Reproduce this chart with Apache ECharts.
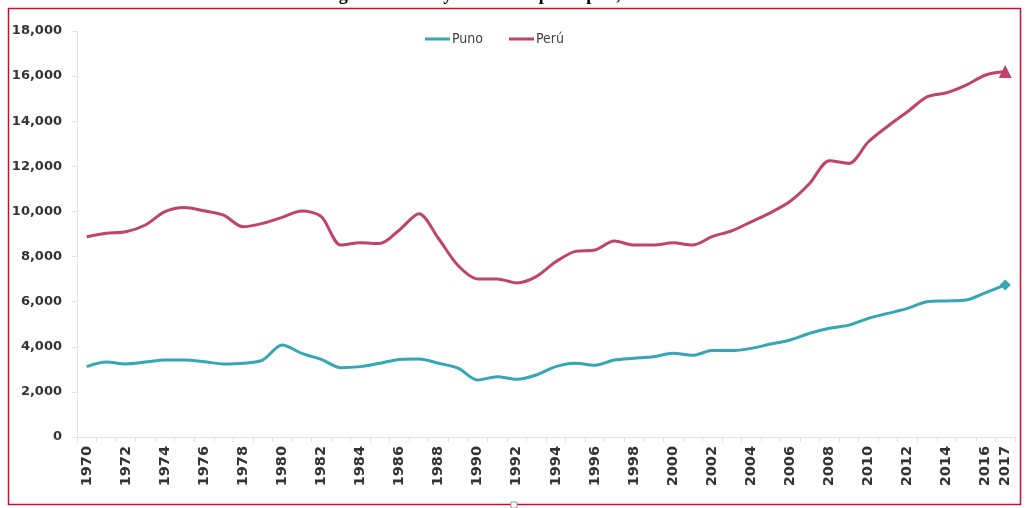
<!DOCTYPE html>
<html>
<head>
<meta charset="utf-8">
<script src="https://cdn.jsdelivr.net/npm/echarts@6/dist/echarts.min.js"></script>
<style>html,body{margin:0;padding:0;background:#fff;}#c{width:1026px;height:508px;}</style>
</head>
<body>
<div id="c"></div>
<script>
const years = [];
for (let y = 1970; y <= 2017; y++) years.push(String(y));
const puno = [3120,3320,3240,3320,3410,3410,3340,3240,3270,3410,4080,3710,3440,3070,3120,3270,3440,3460,3270,3050,
  2530,2670,2560,2750,3120,3270,3180,3410,3490,3560,3710,3620,3830,3830,3930,4120,4300,4600,4820,4960,
  5260,5480,5700,6000,6030,6070,6400,6740];
const peru = [8880,9030,9100,9400,9990,10180,10030,9840,9320,9470,9740,10020,9770,8510,8610,8580,9180,9900,8800,7600,
  7010,7010,6830,7110,7770,8230,8290,8690,8510,8510,8610,8510,8880,9140,9540,9950,10450,11250,12250,12130,
  13090,13790,14420,15080,15260,15600,16050,16200];
const yTicks = [0, 2000, 4000, 6000, 8000, 10000, 12000, 14000, 16000, 18000];

const chart = echarts.init(document.getElementById('c'));
function withEndMarker(arr, sym, size) {
  return arr.map((v, i) => i === arr.length - 1 ? {value: v, symbol: sym, symbolSize: size} : v);
}
chart.setOption({
  animation: false,
  backgroundColor: '#fff',
  title: {
    text: 'Figura 3: Puno y Perú: PBI per cápita, 1970-2017',
    left: 'center', top: -19,
    textStyle: {fontFamily: 'Liberation Serif', fontWeight: 'bold', fontSize: 18, color: '#000'}
  },
  legend: {
    data: ['Puno', 'Perú'],
    top: 27, left: 420,
    icon: 'rect', itemWidth: 25, itemHeight: 3, itemGap: 26,
    textStyle: {fontFamily: 'DejaVu Sans Condensed', fontSize: 14, color: '#444', padding: [0,0,0,-3]}
  },
  grid: {left: 77, right: 11, top: 31, bottom: 71, containLabel: false},
  xAxis: {
    type: 'category', data: years, boundaryGap: true,
    axisLine: {lineStyle: {color: '#e4e4e4', width: 1}},
    axisTick: {show: true, alignWithLabel: false, interval: 0, lineStyle: {color: '#e4e4e4'}},
    axisLabel: {
      rotate: 90, margin: 9,
      interval: (i) => i % 2 === 0 || i === years.length - 1,
      fontFamily: 'DejaVu Sans', fontWeight: 'bold', fontSize: 14.5, color: '#333'
    }
  },
  yAxis: {
    type: 'value', min: 0, max: 18000, interval: 2000,
    axisLine: {show: true, lineStyle: {color: '#e4e4e4'}},
    axisTick: {show: true, lineStyle: {color: '#e4e4e4'}, length: 5},
    splitLine: {show: false},
    axisLabel: {
      margin: 15,
      formatter: (v) => yTicks.includes(v) ? v.toLocaleString('en-US') : '',
      fontFamily: 'DejaVu Sans', fontWeight: 'bold', fontSize: 13, color: '#333'
    }
  },
  series: [
    {
      name: 'Puno', type: 'line', smooth: 0.3, symbol: 'none', showAllSymbol: true,
      data: withEndMarker(puno, 'diamond', 11),
      lineStyle: {color: '#34a6b5', width: 3},
      itemStyle: {color: '#34a6b5'}
    },
    {
      name: 'Perú', type: 'line', smooth: 0.3, symbol: 'none', showAllSymbol: true,
      data: withEndMarker(peru, 'triangle', 13),
      lineStyle: {color: '#c0436b', width: 3},
      itemStyle: {color: '#c0436b'}
    }
  ],
  graphic: [
    {type: 'rect', shape: {x: 8.5, y: 8.5, width: 1012, height: 496}, style: {fill: 'none', stroke: '#c8102e', lineWidth: 1.5}, z: 100},
    {type: 'rect', shape: {x: 511, y: 502, width: 6, height: 6}, style: {fill: '#fff', stroke: '#999', lineWidth: 1}, z: 101}
  ]
});
</script>
</body>
</html>
